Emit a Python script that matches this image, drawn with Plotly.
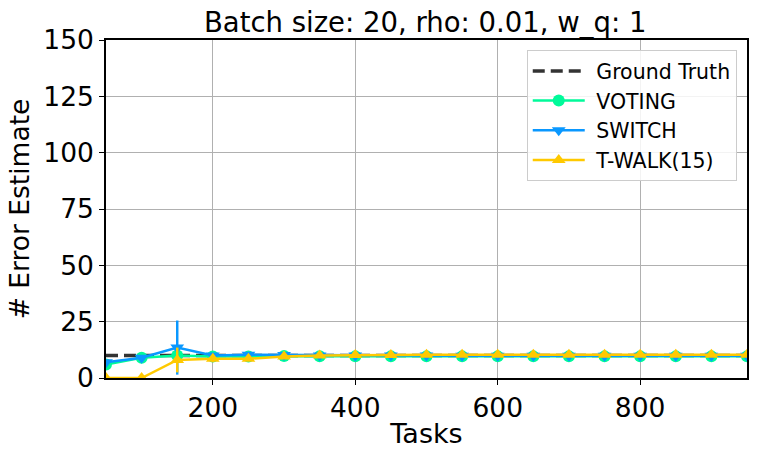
import plotly.graph_objects as go

tasks = [50, 100, 150, 200, 250, 300, 350, 400, 450, 500, 550, 600, 650, 700, 750, 800, 850, 900, 950]
ground_truth = [10] * len(tasks)
voting = [6.0, 9.0, 10.0, 9.5, 9.5, 9.8, 9.7, 9.6, 9.6, 9.6, 9.6, 9.6, 9.6, 9.6, 9.6, 9.6, 9.6, 9.6, 9.6]
voting_err = [1.0, 0.8, 0.5, 0.4, 0.3, 0.3, 0.3, 0.3, 0.3, 0.3, 0.3, 0.3, 0.3, 0.3, 0.3, 0.3, 0.3, 0.3, 0.3]
switch = [7.0, 9.0, 13.5, 10.0, 10.3, 10.2, 10.0, 10.0, 10.0, 10.0, 9.9, 9.9, 9.9, 9.9, 9.9, 9.9, 9.9, 9.9, 9.9]
switch_err = [1.0, 1.0, 12.0, 1.0, 0.6, 0.5, 0.4, 0.4, 0.4, 0.4, 0.4, 0.4, 0.4, 0.4, 0.4, 0.4, 0.4, 0.4, 0.4]
twalk = [0.0, 0.0, 8.0, 8.5, 8.5, 9.5, 10.0, 10.2, 10.2, 10.3, 10.3, 10.3, 10.3, 10.3, 10.3, 10.3, 10.3, 10.3, 10.3]
twalk_err = [0.0, 0.0, 5.5, 1.5, 1.0, 0.6, 0.5, 0.4, 0.4, 0.4, 0.4, 0.4, 0.4, 0.4, 0.4, 0.4, 0.4, 0.4, 0.4]

FONT = "DejaVu Sans"
fig = go.Figure()

fig.add_trace(go.Scatter(x=tasks, y=ground_truth, mode="lines", name=" Ground Truth",
                         line=dict(color="#333333", width=3.5, dash="12px,6px")))

def series(y, err, name, color, symbol):
    fig.add_trace(go.Scatter(
        x=tasks, y=y, mode="lines+markers", name=" " + name,
        line=dict(color=color, width=2.5),
        marker=dict(color=color, symbol=symbol, size=12),
        error_y=dict(type="data", array=err, visible=True, color=color, thickness=2.5, width=0),
    ))

series(voting, voting_err, "VOTING", "#00FA9A", "circle")
series(switch, switch_err, "SWITCH", "#0A98FF", "triangle-down")
series(twalk, twalk_err, "T-WALK(15)", "#FFC900", "triangle-up")

fig.update_layout(
    width=760, height=459,
    margin=dict(l=106, r=13, t=40, b=81),
    paper_bgcolor="white", plot_bgcolor="white",
    font=dict(family=FONT, color="black"),
    title=dict(text="Batch size: 20, rho: 0.01, w_q: 1", x=0.5595,
               xanchor="center", y=1 - 22 / 459, yanchor="middle", font=dict(size=27.5)),
    legend=dict(x=0.984, y=0.97, xanchor="right", yanchor="top",
                bgcolor="rgba(255,255,255,0.85)", bordercolor="#cccccc", borderwidth=1,
                font=dict(size=20.5), itemwidth=52, tracegroupgap=0),
    showlegend=True,
)
fig.update_xaxes(
    range=[50, 950], tickvals=[200, 400, 600, 800], ticktext=["200", "400", "600", "800"],
    showgrid=True, gridcolor="#b0b0b0", gridwidth=1,
    showline=True, linecolor="black", linewidth=1.5, mirror=True,
    ticks="outside", ticklen=5, tickcolor="black", tickfont=dict(size=26.5),
    title=dict(text="Tasks", font=dict(size=27), standoff=3), zeroline=False,
)
fig.update_yaxes(
    range=[0, 150], tickvals=[0, 25, 50, 75, 100, 125, 150],
    showgrid=True, gridcolor="#b0b0b0", gridwidth=1,
    showline=True, linecolor="black", linewidth=1.5, mirror=True,
    ticks="outside", ticklen=5, tickcolor="black", tickfont=dict(size=26.5),
    title=dict(text="# Error Estimate", font=dict(size=26.5), standoff=6), zeroline=False,
)

fig.write_html("out.html")
